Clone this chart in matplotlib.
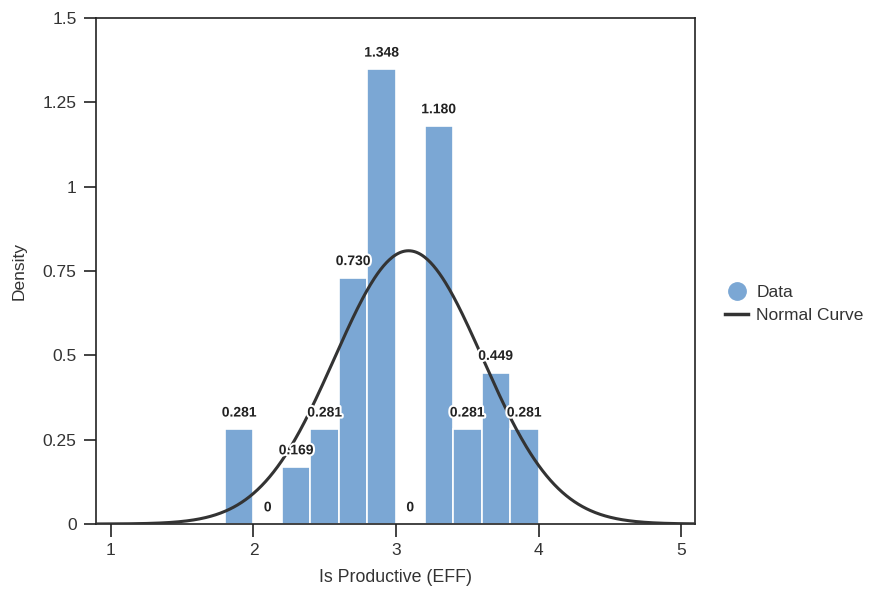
import numpy as np
import matplotlib
matplotlib.use("Agg")
import matplotlib.pyplot as plt
import matplotlib.patheffects as pe
from matplotlib.lines import Line2D

bin_edges = [1.8, 2.0, 2.2, 2.4, 2.6, 2.8, 3.0, 3.2, 3.4, 3.6, 3.8, 4.0]
densities = [0.281, 0.0, 0.169, 0.281, 0.730, 1.348, 0.0, 1.180, 0.281, 0.449, 0.281]
labels = ["0.281", "0", "0.169", "0.281", "0.730", "1.348", "0", "1.180", "0.281", "0.449", "0.281"]
curve_mean = 3.088
curve_sd = 0.52
curve_peak = 0.81
x_ticks = [1, 2, 3, 4, 5]
x_ticklabels = ["1", "2", "3", "4", "5"]
y_ticks = [0, 0.25, 0.5, 0.75, 1, 1.25, 1.5]
y_ticklabels = ["0", "0.25", "0.5", "0.75", "1", "1.25", "1.5"]

plt.rcParams['font.family'] = ['Liberation Sans', 'DejaVu Sans']
TXT = '#333333'

fig = plt.figure(figsize=(8.7, 5.89), dpi=100)
ax = fig.add_axes([96/870, 1-524/589, (695-96)/870, (524-18)/589])

lefts = np.array(bin_edges[:-1])
widths = np.diff(bin_edges)
ax.bar(lefts, densities, width=widths, align='edge', color='#7BA7D4',
       edgecolor='white', linewidth=1.2, zorder=2)

xs = np.linspace(0.9, 5.1, 600)
ys = curve_peak * np.exp(-0.5 * ((xs - curve_mean) / curve_sd) ** 2)
ax.plot(xs, ys, color='#333333', linewidth=2.2, zorder=3)

for l, w, d, t in zip(lefts, widths, densities, labels):
    ax.annotate(t, (l + w / 2, d), xytext=(0, 12), textcoords='offset points',
                ha='center', va='center', fontsize=10, fontweight='bold',
                color='#222222', zorder=4,
                path_effects=[pe.withStroke(linewidth=3, foreground='white')])

ax.set_xlim(0.895, 5.098)
ax.set_ylim(0, 1.5)
ax.set_xticks(x_ticks)
ax.set_xticklabels(x_ticklabels)
ax.set_yticks(y_ticks)
ax.set_yticklabels(y_ticklabels)
ax.tick_params(direction='out', length=9, width=1.2, labelsize=12.5, colors='#222222',
               labelcolor=TXT, pad=5)
for s in ax.spines.values():
    s.set_linewidth(1.2)
    s.set_color('#222222')
ax.set_xlabel('Is Productive (EFF)', fontsize=12.8, color=TXT)
ax.set_ylabel('Density', fontsize=12.5, color=TXT)
ax.xaxis.set_label_coords(0.5, (524-569)/506)
ax.yaxis.set_label_coords((27-96)/599, 0.5)

handles = [Line2D([], [], marker='o', linestyle='none', markersize=12.5,
                  markerfacecolor='#7BA7D4', markeredgecolor='#7BA7D4'),
           Line2D([], [], color='#333333', linewidth=2.5)]
leg = fig.legend(handles, ['Data', 'Normal Curve'], loc='center left',
           bbox_to_anchor=(725/870, 1-304/589), frameon=False, fontsize=12.5,
           borderpad=0, borderaxespad=0,
           handlelength=1.35, handletextpad=0.45, labelspacing=0.45)
for t in leg.get_texts():
    t.set_color(TXT)

fig.savefig('out.png', dpi=100)
